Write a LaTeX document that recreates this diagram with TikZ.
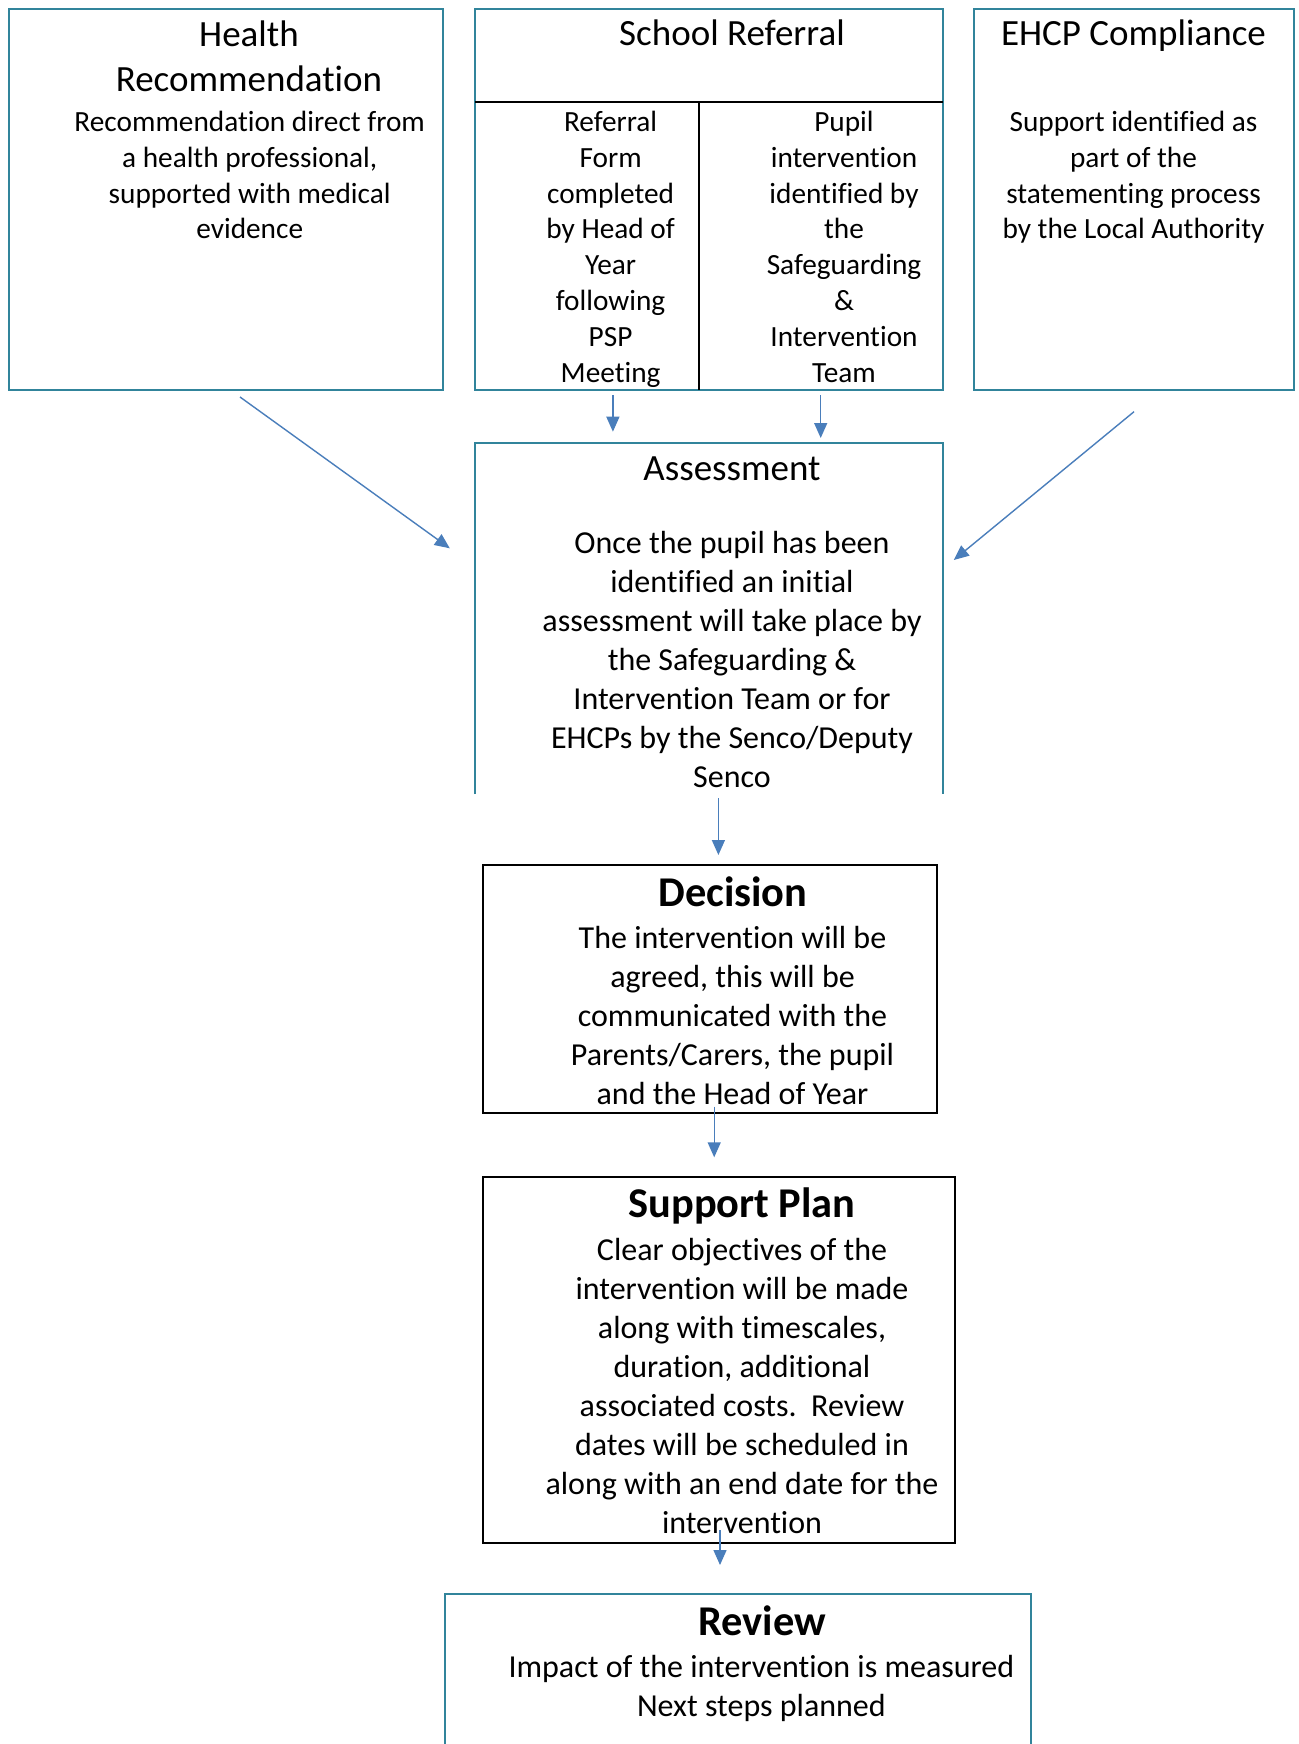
\documentclass[tikz,border=0pt]{standalone}
\usepackage{fontspec}
\setmainfont{Carlito}[Ligatures={NoCommon,NoContextual,NoRequired},Contextuals=NoAlternate]
\usetikzlibrary{arrows.meta}
\definecolor{tealb}{RGB}{49,132,155}
\definecolor{arrb}{RGB}{74,126,187}
\newcommand\myTitle{\fontsize{37}{45.6}\selectfont}
\newcommand\myBody{\fontsize{29.3}{35.9}\selectfont}
\newcommand\myBig{\fontsize{32}{39}\selectfont}
\newcommand\myBold{\fontsize{42.4}{50}\selectfont\bfseries}
\frenchspacing
\begin{document}
\begin{tikzpicture}[x=1pt,y=-1pt,
  tealbox/.style={draw=tealb, line width=2pt, inner sep=0pt},
  blackbox/.style={draw=black, line width=2pt, inner sep=0pt},
  conn/.style={draw=arrb, line width=1.4pt, -{Triangle[length=15pt,width=13pt]}},
  txt/.style={inner sep=0pt, align=center, anchor=north},
  ttl/.style={inner sep=0pt, anchor=base}]
\fill[white] (0,0) rectangle (1298,1744);
\useasboundingbox (0,0) rectangle (1298,1744);

% boxes
\node[tealbox, minimum width=434, minimum height=381] (health) at (226,199.5) {};
\node[tealbox, minimum width=468, minimum height=381] (school) at (709,199.5) {};
\node[tealbox, minimum width=320, minimum height=381] (ehcp) at (1134,199.5) {};
\draw[black, line width=2pt] (475,101.7) -- (943,101.7);
\draw[black, line width=2pt] (698.8,101.7) -- (698.8,390);
\draw[tealb, line width=2pt] (475,794) -- (475,442.7) -- (943,442.7) -- (943,794);
\node[blackbox, minimum width=454.3, minimum height=247.7] (decision) at (709.9,988.9) {};
\node[blackbox, minimum width=472, minimum height=365.4] (support) at (719,1360) {};
\draw[tealb, line width=2pt] (445,1760) -- (445,1594) -- (1031,1594) -- (1031,1760);

% texts
\node[txt, font=\myTitle] (healthT) at (249,14.1) {\strut Health\\Recommendation};
\node[txt, font=\myBody] (healthB) at (249.7,105.9) {\strut Recommendation direct from\\a health professional,\\supported with medical\\evidence};
\node[ttl, font=\myTitle] (schoolT) at (732,46) {School Referral};
\node[txt, font=\myBody] (schoolL) at (610.6,105.9) {\strut Referral\\Form\\completed\\by Head of\\Year\\following\\PSP\\Meeting};
\node[txt, font=\myBody] (schoolR) at (844,105.9) {\strut Pupil\\intervention\\identified by\\the\\Safeguarding\\\&\\Intervention\\Team};
\node[ttl, font=\myTitle] (ehcpT) at (1133.5,46) {EHCP Compliance};
\node[txt, font=\myBody] (ehcpB) at (1133.5,105.9) {\strut Support identified as\\part of the\\statementing process\\by the Local Authority};
\node[ttl, font=\myTitle] (assT) at (732,480.3) {Assessment};
\node[txt, font=\myBig] (assB) at (732,526.4) {\strut Once the pupil has been\\identified an initial\\assessment will take place by\\the Safeguarding \&\\Intervention Team or for\\EHCPs by the Senco/Deputy\\Senco};
\node[ttl, font=\myBold] (decT) at (733,906) {Decision};
\node[txt, font=\myBig] (decB) at (732.5,921.4) {\strut The intervention will be\\agreed, this will be\\communicated with the\\Parents/Carers, the pupil\\and the Head of Year};
\node[ttl, font=\myBold] (supT) at (742,1217.7) {Support Plan};
\node[txt, font=\myBig] (supB) at (742,1233) {\strut Clear objectives of the\\intervention will be made\\along with timescales,\\duration, additional\\associated costs.\ \ Review\\dates will be scheduled in\\along with an end date for the\\intervention};
\node[ttl, font=\myBold] (revT) at (762,1635) {Review};
\node[txt, font=\myBig] (revB) at (761.4,1650.4) {\strut Impact of the intervention is measured\\Next steps planned};

% connectors
\coordinate (h1) at (240,397);
\coordinate (h2) at (449.8,548.3);
\coordinate (sl1) at (612.9,395);
\coordinate (sl2) at (612.9,431.7);
\coordinate (sr1) at (820.7,395);
\coordinate (sr2) at (820.7,438);
\coordinate (e1) at (1134,411.7);
\coordinate (e2) at (953.8,560);
\coordinate (ad1) at (718.4,798.3);
\coordinate (ad2) at (718.4,855);
\coordinate (ds1) at (714.2,1106.7);
\coordinate (ds2) at (714.2,1157.3);
\coordinate (sv1) at (720,1530);
\coordinate (sv2) at (720,1565);
\draw[conn] (h1) -- (h2);
\draw[conn] (sl1) -- (sl2);
\draw[conn] (sr1) -- (sr2);
\draw[conn] (e1) -- (e2);
\draw[conn] (ad1) -- (ad2);
\draw[conn] (ds1) -- (ds2);
\draw[conn] (sv1) -- (sv2);
\end{tikzpicture}
\end{document}
